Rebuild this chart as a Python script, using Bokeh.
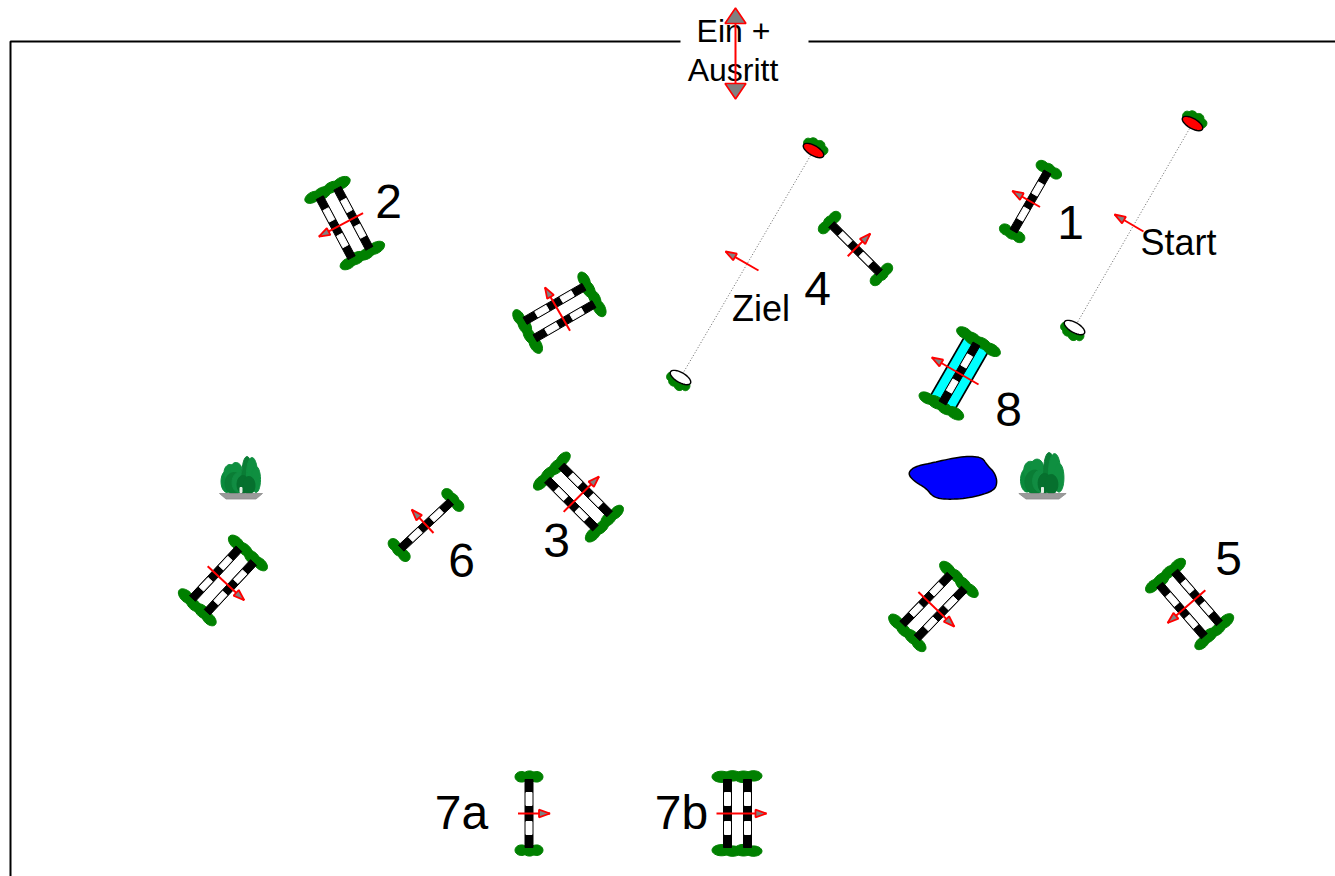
import numpy as np
from bokeh.plotting import figure
from bokeh.models import Range1d
from bokeh.embed import file_html
from bokeh.resources import INLINE
from bokeh.core.properties import value

# --- course data (picture coordinates, y downwards) ---
jump_x = [1030, 344, 855, 559, 578, 425.5, 222.5, 933, 1189, 528.5, 737]
jump_y = [201, 222.5, 248, 312, 496.5, 524.5, 580, 606, 603.5, 813, 813]
jump_angle = [-150, 152, -45, -120, -45, -133, 43, 44, 139, 0, 0]
jump_rails = [1, 2, 1, 2, 2, 1, 2, 2, 2, 1, 2]

water_x = [959]
water_y = [373]
water_angle = [-150]

flag_x = [1192, 1074, 813, 680]
flag_y = [123, 327, 150, 377]
flag_fill = ["#ff0000", "#ffffff", "#ff0000", "#ffffff"]
flag_side = [-1, 1, -1, 1]
line_a = [0, 2]
line_b = [1, 3]

gate_tail_x = [1143, 758]
gate_tail_y = [231, 270]
gate_head_x = [1114, 725]
gate_head_y = [214, 251]

plant_x = [240.5, 1042]
plant_y = [496, 496]
plant_scale = [1.0, 1.1]

pond_x = [907, 914, 933, 960, 981, 987, 994, 997, 993, 967, 943, 932, 926, 914]
pond_y = [473, 466, 462, 456, 456, 465, 472, 482, 491, 498, 499, 496, 488, 481]

label_text = ["1", "2", "3", "4", "5", "6", "7a", "7b", "8"]
label_x = [1070, 388, 556, 817, 1228, 461, 461, 681, 1008]
label_y = [239, 218, 557, 305, 575, 577, 829, 829, 426]

note_text = ["Start", "Ziel", "Ein +", "Ausritt"]
note_x = [1178, 760.5, 733, 732.5]
note_y = [255, 321, 42, 81]
note_px = [36, 36, 32, 32]

border_x = [[10, 10, 680], [808, 1335]]
border_y = [[876, 41, 41], [41, 41]]

entry_x = [735, 735]
entry_y = [23, 83]

p = figure(width=1335, height=876, output_backend="svg", toolbar_location=None,
           x_range=Range1d(0, 1335), y_range=Range1d(876, 0),
           x_axis_location=None, y_axis_location=None, min_border=0)
p.grid.visible = False
p.outline_line_color = None
p.background_fill_color = "white"

BASELINE_SHIFT = 0.36  # the svg text sits this many em below the asked baseline


def place(cx, cy, deg, u, v):
    t = np.radians(deg)
    u, v = np.asarray(u, float), np.asarray(v, float)
    return cx + u * np.cos(t) - v * np.sin(t), cy + u * np.sin(t) + v * np.cos(t)


def oval(cx, cy, deg, a, b, du=0.0, dv=0.0):
    s = np.linspace(0, 2 * np.pi, 30)
    return place(cx, cy, deg, du + a * np.cos(s), dv + b * np.sin(s))


def box(cx, cy, deg, u0, u1, v0, v1):
    return place(cx, cy, deg, [u0, u1, u1, u0], [v0, v0, v1, v1])


def fill(shape, color, line=None, lw=1.0):
    p.patch(shape[0], shape[1], fill_color=color, line_color=line or color, line_width=lw)


def green_end(cx, cy, deg, du_list, sign):
    for k, (du, a, b) in enumerate(du_list):
        fill(oval(cx, cy, deg, a, b, du, sign * (37 + (0.6 if k % 2 else -0.3))), "#008000")


def rail(cx, cy, deg, du):
    fill(box(cx, cy, deg, du - 4, du + 4, -34, 34), "#000000")
    for v0, v1 in ((-21, -8), (8, 21)):
        fill(box(cx, cy, deg, du - 3, du + 3, v0, v1), "#ffffff")


def arrow(x0, y0, x1, y1, head=11, half=3.8):
    p.line([x0, x1], [y0, y1], line_color="#ff0000", line_width=2)
    d = np.array([x1 - x0, y1 - y0], float)
    d /= np.hypot(*d)
    n = np.array([-d[1], d[0]])
    tip = np.array([x1, y1], float)
    base = tip - head * d
    pts = np.array([tip, base + half * n, base - half * n])
    p.patch(pts[:, 0], pts[:, 1], fill_color="#808080", line_color="#ff0000", line_width=1.8)


def jump_arrow(cx, cy, deg, back, front):
    x, y = place(cx, cy, deg, [-back, front], [0, 0])
    arrow(x[0], y[0], x[1], y[1])


# border
for bx, by in zip(border_x, border_y):
    p.line(bx, by, line_color="#000000", line_width=2)

# dotted start / finish lines
for a, b in zip(line_a, line_b):
    p.line([flag_x[a], flag_x[b]], [flag_y[a], flag_y[b]], line_color="#555555",
           line_width=0.9, line_dash="1 2")

# start / finish flags
for fx, fy, fc, side in zip(flag_x, flag_y, flag_fill, flag_side):
    deg = 30
    for du, dv, a, b in ((-9, 4, 4, 4.5), (-4, 7, 5, 4.5), (3, 8, 5, 4.5), (9, 5, 4, 4.5), (0, 4, 11, 5)):
        fill(oval(fx, fy, deg, a, b, du, side * dv), "#008000")
    fill(oval(fx, fy, deg, 11.5, 5), fc, "#000000", 1.4)

# pond
px, py = np.array(pond_x, float), np.array(pond_y, float)
for _ in range(3):
    qx = np.column_stack([0.75 * px + 0.25 * np.roll(px, -1), 0.25 * px + 0.75 * np.roll(px, -1)]).ravel()
    qy = np.column_stack([0.75 * py + 0.25 * np.roll(py, -1), 0.25 * py + 0.75 * np.roll(py, -1)]).ravel()
    px, py = qx, qy
p.patch(px, py, fill_color="#0000ff", line_color="#000000", line_width=1.5)

# plants on plates
for cx, cy, sc in zip(plant_x, plant_y, plant_scale):
    lumps = [(-14, -15, 6, 11, "#0a8a3c"), (-11, -24, 6, 8, "#0f8f40"), (-5, -26, 6, 8, "#0f8f40"),
             (-7, -13, 9, 11, "#0a7d35"), (-2, -14, 7, 10, "#118c42"), (6, -23, 5, 17, "#0a7d35"),
             (11, -22, 5.5, 17, "#0f8f40"), (15, -17, 4.5, 13, "#0f8f40"), (2, -12, 6, 9, "#06702e"),
             (8, -11, 6, 9, "#06702e")]
    for du, dv, a, b, c in lumps:
        fill(oval(cx, cy, 0, a * sc, b * sc, du * sc, dv * sc), c)
    fill(box(cx, cy, 0, -1, 1, -9, -4), "#e8f0e8")
    p.patch([cx - 21.5 * sc, cx + 21.5 * sc, cx + 15 * sc, cx - 15 * sc],
            [cy - 3, cy - 3, cy + 2.5, cy + 2.5],
            fill_color="#9a9a9a", line_color="#8a8a8a", line_width=0.8)

# ordinary jumps
single_blobs = [(-7.5, 6.5, 5.3), (0.5, 6.5, 5), (7.5, 6.5, 5.3)]
double_blobs = [(-16, 9.5, 5.6), (-5, 9, 5.2), (6, 9.5, 5.8), (16, 8.5, 5.2)]
for cx, cy, deg, rails in zip(jump_x, jump_y, jump_angle, jump_rails):
    blobs = single_blobs if rails == 1 else double_blobs
    green_end(cx, cy, deg, blobs, 1)
    green_end(cx, cy, deg, blobs, -1)
    if rails == 1:
        rail(cx, cy, deg, 0)
        jump_arrow(cx, cy, deg, 11, 21)
    else:
        rail(cx, cy, deg, -10)
        rail(cx, cy, deg, 10)
        jump_arrow(cx, cy, deg, 21, 29)

# water jump
for cx, cy, deg in zip(water_x, water_y, water_angle):
    fill(box(cx, cy, deg, -14, 14, -33, 33), "#00ffff")
    for du in (-14, 14):
        x, y = place(cx, cy, deg, [du, du], [-33, 33])
        p.line(x, y, line_color="#000000", line_width=1.8)
    green_end(cx, cy, deg, double_blobs, 1)
    green_end(cx, cy, deg, double_blobs, -1)
    rail(cx, cy, deg, 0)
    jump_arrow(cx, cy, deg, 22, 32)

# start / finish direction arrows
for x0, y0, x1, y1 in zip(gate_tail_x, gate_tail_y, gate_head_x, gate_head_y):
    arrow(x0, y0, x1, y1)

# texts
p.text(x=label_x, y=[v - BASELINE_SHIFT * 48 for v in label_y], text=label_text,
       text_font=value("Liberation Sans"), text_font_size="48px", text_align="center",
       text_baseline="alphabetic", text_color="#000000")
for tx, ty, tt, ts in zip(note_x, note_y, note_text, note_px):
    p.text(x=[tx], y=[ty - BASELINE_SHIFT * ts], text=[tt], text_font=value("Liberation Sans"),
           text_font_size=f"{ts}px", text_align="center", text_baseline="alphabetic", text_color="#000000")

# entry / exit double arrow
p.line(entry_x, entry_y, line_color="#ff0000", line_width=2)
p.patch([entry_x[0], entry_x[0] + 10.5, entry_x[0] - 10.5], [entry_y[0] - 15.5, entry_y[0], entry_y[0]],
        fill_color="#808080", line_color="#ff0000", line_width=1.6)
p.patch([entry_x[1], entry_x[1] + 10.5, entry_x[1] - 10.5], [entry_y[1] + 15.5, entry_y[1], entry_y[1]],
        fill_color="#808080", line_color="#ff0000", line_width=1.6)

open("out.html", "w").write(file_html(p, INLINE))
